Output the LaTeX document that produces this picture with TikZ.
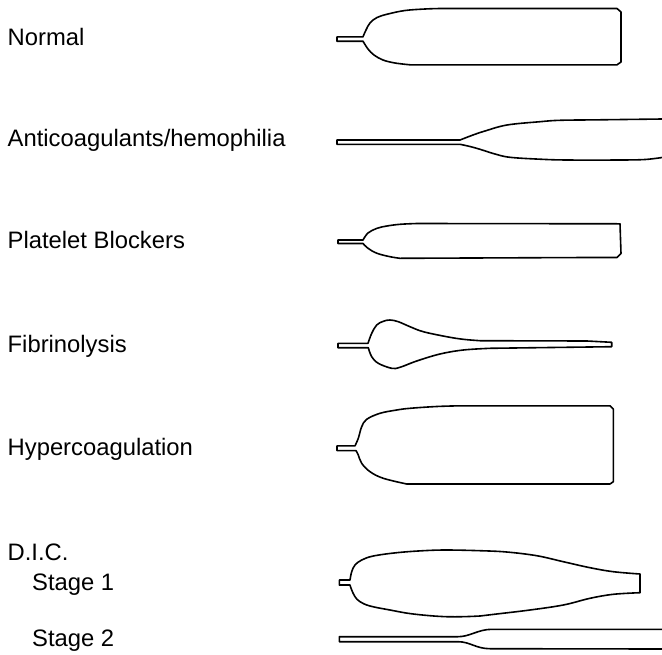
\documentclass[tikz,border=0pt]{standalone}
\usepackage{fontspec}
\setmainfont{Liberation Sans}
\begin{document}
\begin{tikzpicture}[x=1pt,y=-1pt,
  lbl/.style={anchor=base west,inner sep=0pt,font=\fontsize{23.8}{28}\selectfont},
  trace/.style={draw=black,line width=1.6pt,line join=round,line cap=round}]
\useasboundingbox (0,0) rectangle (662,654);
% labels
\node[lbl] (normal) at (7.5,45) {Normal};
\node[lbl] (anti) at (7.5,146.7) {Anticoagulants/hemophilia};
\node[lbl] (plate) at (7.5,248.3) {Platelet Blockers};
\node[lbl] (fibr) at (7.5,352.3) {Fibrinolysis};
\node[lbl] (hyper) at (7.5,455.7) {Hypercoagulation};
\node[lbl] (dic) at (7.5,560.7) {D.I.C.};
\node[lbl] (st1) at (32,590) {Stage 1};
\node[lbl] (st2) at (32,646.7) {Stage 2};
% Normal
\draw[trace] (337,36.8) -- (363,36.8)
  -- plot[smooth,tension=0.6] coordinates {(363,36.8) (366,30) (370,23) (377,17.5) (388,14) (405,10.5) (425,9) (440,8.5)}
  -- (617,8.5) -- (621,12) -- (621,62) -- (617,64.8) -- (410,64.8)
  -- plot[smooth,tension=0.6] coordinates {(410,64.8) (395,63) (383,60) (374,55) (368,49) (363,41.2)}
  -- (337,41.2) -- cycle;
% Anticoagulants / hemophilia
\draw[trace] (662,119)
  -- plot[smooth,tension=0.6] coordinates {(662,119) (600,119.8) (560,120.3) (540,121.7) (507,125) (485,131) (473,135) (460,140)}
  -- (337,140) -- (337,144.3) -- (460,144.3)
  -- plot[smooth,tension=0.6] coordinates {(460,144.3) (470,146.5) (480,149.3) (495,154) (510,157.3) (540,159.2) (567,160) (620,160) (645,159.5) (662,157.5)};
% Platelet blockers
\draw[trace] (338,240) -- (363,240)
  -- plot[smooth,tension=0.6] coordinates {(363,240) (368,233) (377,228.3) (387,226) (400,224.3) (417,223.5)}
  -- (620,223.8) -- (621,253.5) -- (617,257.5) -- (587,257.5) -- (400,258.3)
  -- plot[smooth,tension=0.6] coordinates {(400,258.3) (390,256.7) (377,253.3) (368,248.3) (363,243.5)}
  -- (338,243.5) -- cycle;
% Fibrinolysis
\draw[trace] (338,343.3) -- (368,343.3)
  -- plot[smooth,tension=0.6] coordinates {(368,343.3) (371.7,333.3) (376.7,325) (383.3,321.3) (390,320) (398.3,321.7) (410,326.7) (423.3,331.7) (446.7,336.7) (463.3,339.3) (480,340.7)}
  -- (587,341) -- (611.7,342.3) -- (611.7,346.7) -- (490,348.3)
  -- plot[smooth,tension=0.6] coordinates {(490,348.3) (463.3,350) (440,354) (416.7,361) (400,367.3) (391.7,368.3) (378.3,363.3) (371.7,356.7) (368.3,347.7)}
  -- (338,347.7) -- cycle;
% Hypercoagulation
\draw[trace] (337,445.8) -- (355,445.8)
  -- plot[smooth,tension=0.6] coordinates {(355,445.8) (358.3,438.3) (361.7,426.7) (366.7,419.3) (380,413.3) (396.7,410) (410,408.3) (436.7,406.5) (460,405.8)}
  -- (610,405.8) -- (613.3,409) -- (613.3,481.7) -- (610,484) -- (406.7,484)
  -- plot[smooth,tension=0.6] coordinates {(406.7,484) (383.3,478.3) (370,471.7) (361.7,463.3) (358.3,455) (356,450.6)}
  -- (337,450.6) -- cycle;
% D.I.C. stage 1
\draw[trace] (339.3,580) -- (350,580)
  -- plot[smooth,tension=0.6] coordinates {(350,580) (351.7,571.7) (355,565) (361.7,560) (373.3,556) (396.7,552.7) (423.3,550.7) (446.7,550) (480,550.7) (506.7,552) (536.7,555.7) (563.3,561.7) (590,567.7) (613.3,571.7) (640,574)}
  -- (640,592.7)
  -- plot[smooth,tension=0.6] coordinates {(640,592.7) (613.3,594.3) (590,598.3) (563.3,605) (530,610) (496.7,614) (480,616) (446.7,616.7) (413.3,614) (390,610) (370,606) (360,601.7) (355,596.7) (351.7,590) (350,585)}
  -- (339.3,585) -- cycle;
% D.I.C. stage 2
\draw[trace] (662,629.3) -- (492,629.3)
  .. controls (478,629.3) and (470,636.7) .. (458,636.7)
  -- (339.3,636.7) -- (339.3,641.7) -- (458,641.7)
  .. controls (470,641.7) and (476,648.7) .. (490,648.7)
  -- (662,649);
\end{tikzpicture}
\end{document}
